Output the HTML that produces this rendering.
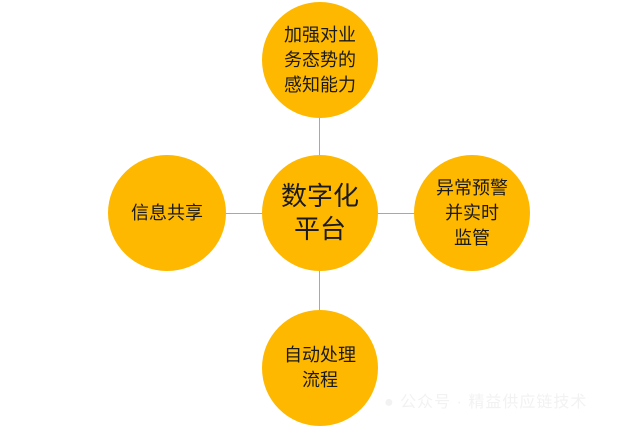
<!DOCTYPE html>
<html><head><meta charset="utf-8"><style>
body{margin:0;width:641px;height:428px;background:#fff;overflow:hidden;position:relative;font-family:"Liberation Sans","Noto Sans CJK SC",sans-serif}
.c{position:absolute;border-radius:50%;background:#FFB800;display:flex;align-items:center;justify-content:center;text-align:center;color:#1a1a1a;font-size:18px;line-height:25px}
.l{position:absolute;background:#b5a88a}
.wm{position:absolute;left:384px;top:388px;color:#f2f2f2;font-size:16px;letter-spacing:1px}
</style></head><body>
<div class="l" style="left:319px;top:118px;width:1px;height:40px"></div>
<div class="l" style="left:319px;top:270px;width:1px;height:40px"></div>
<div class="l" style="left:226px;top:213px;width:38px;height:1px"></div>
<div class="l" style="left:376px;top:213px;width:40px;height:1px"></div>
<div class="c" style="left:262px;top:2px;width:116px;height:116px">加强对业<br>务态势的<br>感知能力</div>
<div class="c" style="left:262px;top:155px;width:116px;height:116px;font-size:26px;line-height:33px">数字化<br>平台</div>
<div class="c" style="left:108px;top:155px;width:118px;height:116px">信息共享</div>
<div class="c" style="left:414px;top:155px;width:116px;height:116px">异常预警<br>并实时<br>监管</div>
<div class="c" style="left:262px;top:310px;width:116px;height:116px">自动处理<br>流程</div>
<div class="wm">● 公众号 · 精益供应链技术</div>
</body></html>
